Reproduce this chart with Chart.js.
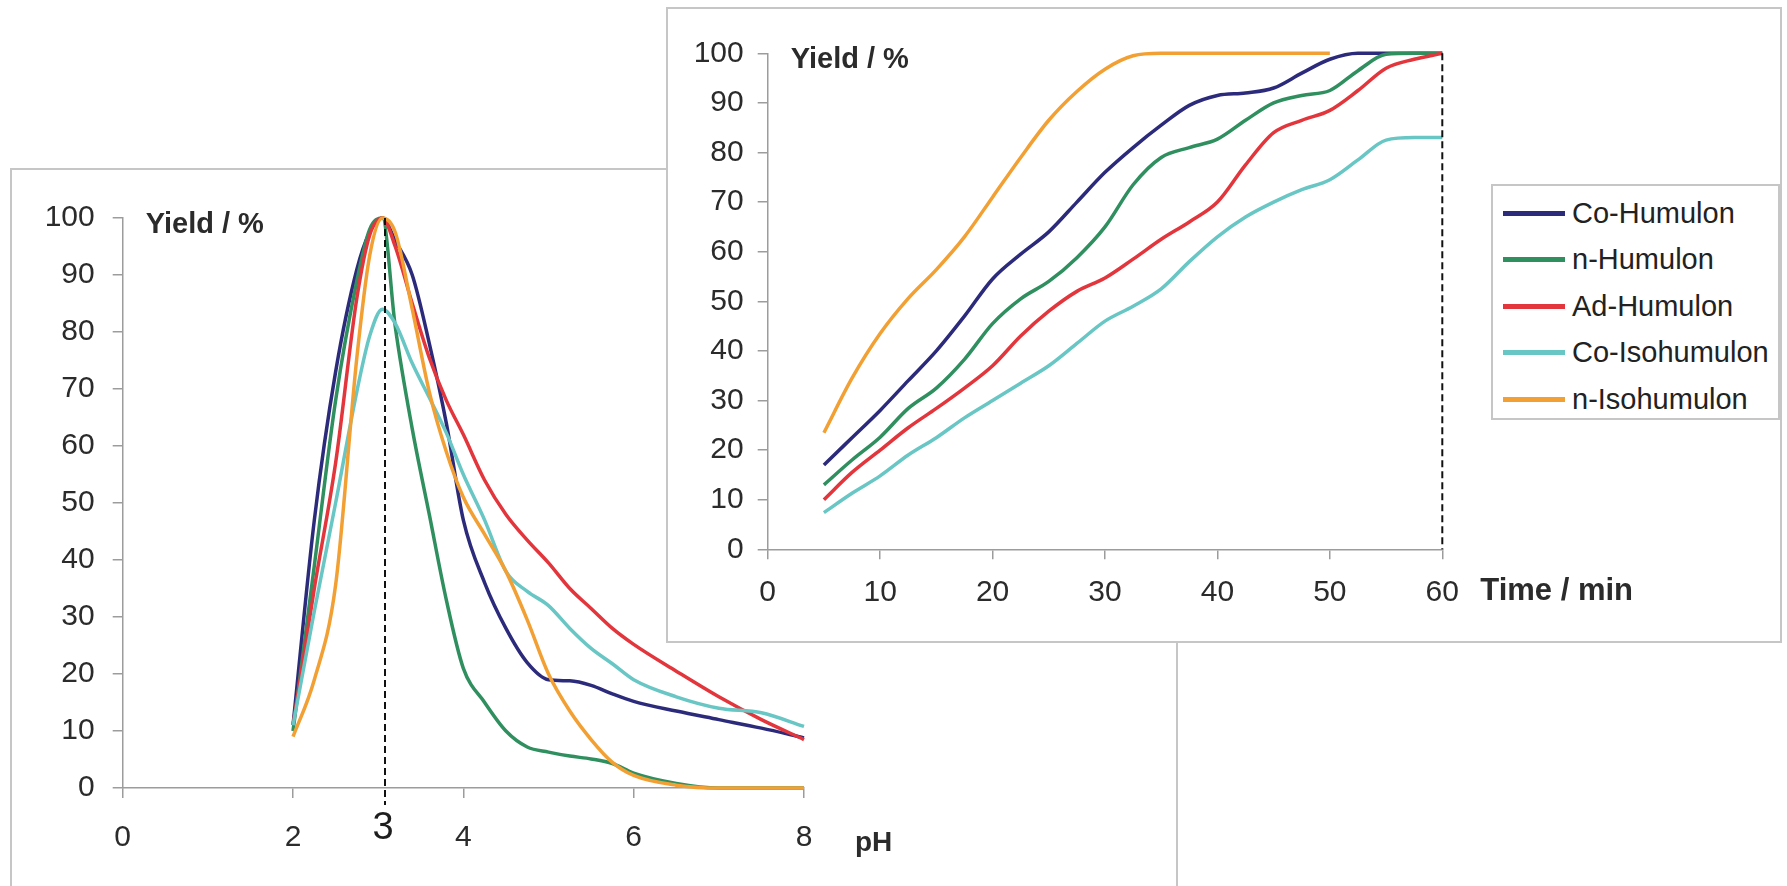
<!DOCTYPE html>
<html>
<head>
<meta charset="utf-8">
<script src="https://cdn.jsdelivr.net/npm/chart.js@4.4.1/dist/chart.umd.min.js"></script>
<style>
  body { margin: 0; width: 1787px; height: 886px; background: #fff; overflow: hidden; position: relative; font-family: "Liberation Sans", Arial, sans-serif; }
  .panel { position: absolute; border: 2px solid #c6c6c6; background: #fff; box-sizing: border-box; }
  #ph-panel { left: 10px; top: 168px; width: 1168px; height: 800px; z-index: 0; }
  #time-panel { left: 666px; top: 7px; width: 1116px; height: 636px; z-index: 2; }
  canvas { position: absolute; }
  #ph-chart { left: 20px; top: 180px; z-index: 1; }
  #time-chart { left: 680px; top: 12px; z-index: 3; }
  #legend { position: absolute; left: 1491px; top: 184px; width: 289px; height: 236px; box-sizing: border-box; border: 2px solid #c6c6c6; background: #fff; z-index: 4; }
  .legend-row { position: absolute; left: 0; height: 40px; display: flex; align-items: center; }
  .legend-line { width: 62px; height: 5px; margin-left: 10px; margin-right: 7px; }
  .legend-text { font-size: 29px; color: #222; white-space: nowrap; }
</style>
</head>
<body>
<div class="panel" id="ph-panel"></div>
<canvas id="ph-chart" width="1140" height="700"></canvas>
<div class="panel" id="time-panel"></div>
<canvas id="time-chart" width="990" height="620"></canvas>
<div id="legend"></div>
<script>
const seriesNames = ["Co-Humulon", "n-Humulon", "Ad-Humulon", "Co-Isohumulon", "n-Isohumulon"];
const seriesColors = ["#2c2b7b", "#2f8f5f", "#e2363c", "#68c6c4", "#f2a033"];

// left chart: yield vs pH
const phValues = [2, 2.25, 2.5, 2.75, 2.9, 3.05, 3.2, 3.4, 3.6, 3.8, 4, 4.25, 4.5, 4.75, 5, 5.25, 5.5, 5.75, 6, 6.5, 7, 7.5, 8];
const phCoHumulon = [11, 47, 73, 91, 97.5, 100, 96, 90, 78, 64, 47, 36, 28, 22, 19, 18.8, 18, 16.5, 15.2, 13.5, 12, 10.5, 8.8];
const phNHumulon = [10, 39, 68, 89, 98, 100, 81, 63, 48, 33, 21, 15, 10, 7.2, 6.3, 5.6, 5.1, 4.3, 2.6, 0.8, 0, 0, 0];
const phAdHumulon = [11, 35, 57, 86, 97, 100, 95, 85, 75.5, 68, 62, 54, 48, 43.5, 39.5, 35, 31.5, 28, 25.2, 20.5, 16, 12, 8.5];
const phCoIsohumulon = [11, 31, 50, 69.6, 79.3, 84, 81.5, 74.5, 68.5, 62.3, 55, 47, 38, 34.5, 32, 28, 24.5, 21.8, 19, 16, 14, 13.2, 10.8];
const phNIsohumulon = [9, 19, 35.6, 75.6, 93.4, 100, 97.5, 84, 69.5, 59, 51, 44.5, 38, 29.5, 20, 13.5, 8.5, 4.5, 2.2, 0.5, 0, 0, 0];
const phTicks = [0, 2, 4, 6, 8];
const phMarker = 3.08;
const phMarkerLabel = "3";

// right chart: yield vs time
const timeValues = [5, 7.5, 10, 12.5, 15, 17.5, 20, 22.5, 25, 27.5, 30, 32.5, 35, 37.5, 40, 42.5, 45, 47.5, 50, 52.5, 55, 57.5, 60];
const timeCoHumulon = [17, 22.5, 28, 34, 40, 47, 54.5, 59.5, 64, 70, 76, 81, 85.5, 89.5, 91.5, 92, 93, 96, 98.8, 100, 100, 100, 100];
const timeNHumulon = [13, 18, 22.6, 28.4, 32.5, 38.3, 45.5, 50.5, 54, 58.8, 65, 73.5, 79, 81, 82.7, 86.5, 90, 91.5, 92.5, 96.5, 99.8, 100, 100];
const timeAdHumulon = [10, 15.5, 20, 24.5, 28.4, 32.5, 37, 43, 48, 52, 54.7, 58.5, 62.5, 66, 70, 77.5, 84, 86.5, 88.5, 92.5, 97, 98.8, 100];
const timeCoIsohumulon = [7.4, 11.3, 14.8, 19, 22.5, 26.5, 30, 33.5, 37, 41.5, 46, 49, 52.5, 58, 63, 67, 70, 72.5, 74.5, 78.5, 82.5, 83, 83];
const timeNIsohumulon = [23.5, 34.5, 43.5, 50.6, 56.4, 63, 71, 79, 86.5, 92.3, 96.8, 99.5, 100, 100, 100, 100, 100, 100, 100, null, null, null, null];
const timeTicks = [0, 10, 20, 30, 40, 50, 60];
const timeMarker = 60;

const yieldTicks = [0, 10, 20, 30, 40, 50, 60, 70, 80, 90, 100];

const FONT = "'Liberation Sans', Arial, sans-serif";

const makeDatasets = (xs, series) =>
  series.map((ys, i) => ({
    label: seriesNames[i],
    data: xs.map((x, j) => ({ x: x, y: ys[j] })),
    borderColor: seriesColors[i],
    backgroundColor: seriesColors[i],
    borderWidth: 3.5,
    pointRadius: 0,
    cubicInterpolationMode: "monotone",
    spanGaps: false,
    clip: 12,
    order: series.length - 1 - i,
  }));

// axis captions, dashed marker line and its label
const decorPlugin = {
  id: "decor",
  afterDatasetsDraw(chart, args, opts) {
    const { ctx, chartArea, scales } = chart;
    const x = scales.x;
    const y = scales.y;
    ctx.save();
    ctx.fillStyle = "#2b2b2b";
    ctx.textBaseline = "middle";
    ctx.textAlign = "left";
    ctx.font = `bold 29px ${FONT}`;
    ctx.fillText("Yield / %", chartArea.left + 23, chartArea.top + 7);
    ctx.font = `bold ${opts.xTitleSize}px ${FONT}`;
    ctx.fillText(opts.xTitle, x.getPixelForValue(x.max) + opts.xTitleGap, y.getPixelForValue(0) + opts.xTitleDy);

    const mx = x.getPixelForValue(opts.marker);
    ctx.strokeStyle = "#111";
    ctx.lineWidth = 2;
    ctx.setLineDash([7, 4]);
    ctx.beginPath();
    ctx.moveTo(mx, y.getPixelForValue(100));
    ctx.lineTo(mx, y.getPixelForValue(0) + opts.markerExtend);
    ctx.stroke();
    if (opts.markerLabel) {
      ctx.setLineDash([]);
      ctx.font = `38px ${FONT}`;
      ctx.fillStyle = "#1e1e1e";
      ctx.textAlign = "center";
      ctx.fillText(opts.markerLabel, mx - 2, y.getPixelForValue(0) + 41);
    }
    ctx.restore();
  },
};

const axis = (min, max, ticks, fitSize, isY, pad) => ({
  type: "linear",
  min: min,
  max: max,
  afterBuildTicks: (scale) => {
    scale.ticks = ticks.map((v) => ({ value: v }));
  },
  afterFit: (scale) => {
    if (isY) scale.width = fitSize;
    else scale.height = fitSize;
  },
  border: { color: "#9c9c9c", width: 1.5 },
  grid: { drawOnChartArea: false, drawTicks: true, tickLength: 10, color: "#9c9c9c", lineWidth: 1.5 },
  ticks: {
    color: "#2b2b2b",
    padding: pad,
    maxRotation: 0,
    autoSkip: false,
    font: { family: FONT, size: 30 },
  },
});

const phChart = new Chart(document.getElementById("ph-chart"), {
  type: "line",
  data: {
    datasets: makeDatasets(phValues, [phCoHumulon, phNHumulon, phAdHumulon, phCoIsohumulon, phNIsohumulon]),
  },
  options: {
    responsive: false,
    animation: false,
    devicePixelRatio: 1,
    layout: { padding: { top: 38, right: 356, left: 0, bottom: 0 } },
    scales: {
      x: axis(0, 8, phTicks, 92, false, 22),
      y: axis(0, 100, yieldTicks, 102.7, true, 18),
    },
    plugins: {
      legend: { display: false },
      tooltip: { enabled: false },
      decor: { xTitle: "pH", xTitleSize: 28, xTitleGap: 51, xTitleDy: 55, marker: phMarker, markerExtend: 17, markerLabel: phMarkerLabel },
    },
  },
  plugins: [decorPlugin],
});

const timeChart = new Chart(document.getElementById("time-chart"), {
  type: "line",
  data: {
    datasets: makeDatasets(timeValues, [timeCoHumulon, timeNHumulon, timeAdHumulon, timeCoIsohumulon, timeNIsohumulon]),
  },
  options: {
    responsive: false,
    animation: false,
    devicePixelRatio: 1,
    layout: { padding: { top: 41.3, right: 227.7, left: 0, bottom: 0 } },
    scales: {
      x: axis(0, 60, timeTicks, 82.7, false, 15),
      y: axis(0, 100, yieldTicks, 87.7, true, 14),
    },
    plugins: {
      legend: { display: false },
      tooltip: { enabled: false },
      decor: { xTitle: "Time / min", xTitleSize: 31, xTitleGap: 38, xTitleDy: 42, marker: timeMarker, markerExtend: 0, markerLabel: "" },
    },
  },
  plugins: [decorPlugin],
});

// legend built from the series arrays
const legend = document.getElementById("legend");
seriesNames.forEach((name, i) => {
  const row = document.createElement("div");
  row.className = "legend-row";
  row.style.top = 7 + i * 46.5 + "px";
  const line = document.createElement("span");
  line.className = "legend-line";
  line.style.background = seriesColors[i];
  const text = document.createElement("span");
  text.className = "legend-text";
  text.textContent = name;
  row.appendChild(line);
  row.appendChild(text);
  legend.appendChild(row);
});
</script>
</body>
</html>
